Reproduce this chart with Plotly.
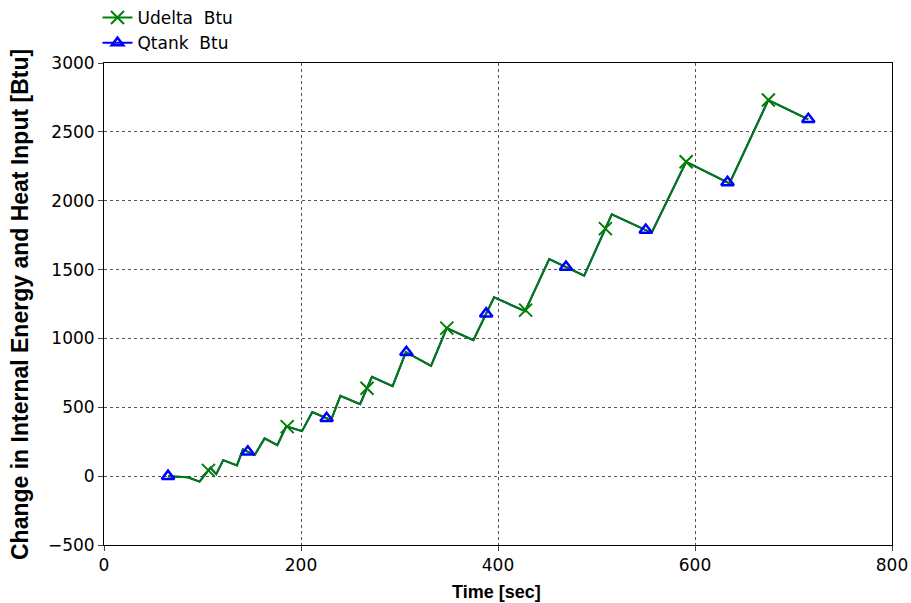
import numpy as np
import plotly.graph_objects as go

# Time samples (sec) at line vertices
time = [65, 85, 97, 108, 114, 121, 135, 141, 153, 163, 176, 185, 201, 211.5, 230.5,
        240, 260, 272, 293, 306.5, 332, 348, 375, 396, 427.5, 452, 487.5, 515.5,
        556, 591, 635, 674.5, 715]
# Change in internal energy (Btu)
udelta = [0, -8, -40, 60, 15, 116, 78, 194, 153, 274, 225, 362, 327, 465, 407,
          583, 523, 721, 654, 901, 801, 1075, 988, 1298, 1198, 1576, 1455, 1901,
          1767, 2283, 2126, 2731, 2591]
# Heat input (Btu) - coincides with Udelta
qtank = list(udelta)

# Marker sample times
udelta_marker_t = [106, 186, 267, 348, 428, 509, 591, 674.5]
qtank_marker_t = [65, 146, 226, 307, 388, 469, 550, 633, 715]

x_ticks = [0, 200, 400, 600, 800]
y_ticks = [-500, 0, 500, 1000, 1500, 2000, 2500, 3000]

green = "#008000"
blue = "#0000FF"

fig = go.Figure()
fig.add_trace(go.Scatter(x=time, y=qtank, mode="lines",
                         line=dict(color=blue, width=2), showlegend=False, hoverinfo="skip"))
fig.add_trace(go.Scatter(x=time, y=udelta, mode="lines",
                         line=dict(color=green, width=2), showlegend=False, hoverinfo="skip"))
fig.add_trace(go.Scatter(x=udelta_marker_t, y=np.interp(udelta_marker_t, time, udelta),
                         mode="markers", showlegend=False,
                         marker=dict(symbol="x-thin-open", size=13, color=green,
                                     line=dict(color=green, width=2))))
fig.add_trace(go.Scatter(x=qtank_marker_t, y=np.interp(qtank_marker_t, time, qtank),
                         mode="markers", showlegend=False,
                         marker=dict(symbol="triangle-up-open", size=11, color=blue,
                                     line=dict(color=blue, width=2.5))))
# legend entries
fig.add_trace(go.Scatter(x=[None], y=[None], mode="lines+markers", name="Udelta  Btu",
                         line=dict(color=green, width=2),
                         marker=dict(symbol="x-thin-open", size=13, color=green,
                                     line=dict(color=green, width=2))))
fig.add_trace(go.Scatter(x=[None], y=[None], mode="lines+markers", name="Qtank  Btu",
                         line=dict(color=blue, width=2),
                         marker=dict(symbol="triangle-up-open", size=10, color=blue,
                                     line=dict(color=blue, width=2.5))))

grid = dict(showgrid=True, gridcolor="#555555", griddash="3px,3px", gridwidth=1)
fig.update_layout(
    width=911, height=603,
    margin=dict(l=104, r=19, t=63, b=58, autoexpand=False),
    paper_bgcolor="white", plot_bgcolor="white",
    font=dict(family="DejaVu Sans, sans-serif", size=17, color="black"),
    showlegend=True,
    legend=dict(xref="container", yref="container", x=0.107, y=1.004,
                xanchor="left", yanchor="top",
                font=dict(size=17, color="black"), bgcolor="rgba(0,0,0,0)",
                tracegroupgap=0, itemwidth=30),
    xaxis=dict(range=[0, 800], tickvals=x_ticks, ticks="outside", ticklen=5,
               showline=True, linecolor="black", linewidth=1, mirror=True,
               zeroline=False, automargin=False, tickfont=dict(size=17), **grid),
    yaxis=dict(range=[-500, 3000], tickvals=y_ticks, ticks="outside", ticklen=5,
               showline=True, linecolor="black", linewidth=1, mirror=True,
               zeroline=False, automargin=False, tickfont=dict(size=17), **grid),
    annotations=[
        dict(text="<b>Time [sec]</b>", xref="paper", yref="paper",
             x=(496 - 104) / 788, y=-(592 - 545) / 482, xanchor="center", yanchor="middle",
             showarrow=False, font=dict(size=18, family="Liberation Sans, Arial")),
        dict(text="<b>Change in Internal Energy and Heat Input [Btu]</b>",
             xref="paper", yref="paper", x=(20 - 104) / 788, y=(545 - 305) / 482,
             xanchor="center", yanchor="middle", textangle=-90,
             showarrow=False, font=dict(size=23, family="Liberation Sans, Arial")),
    ],
)
fig.write_html("out.html")
